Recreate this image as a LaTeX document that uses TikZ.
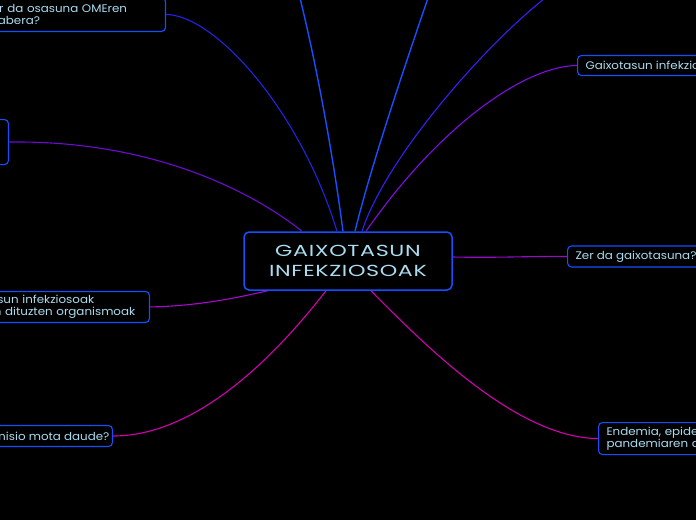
\documentclass[tikz,border=0pt]{standalone}
\usepackage{fontspec}
\newfontfamily\uifont[FakeStretch=1.08]{Poppins}
\newfontfamily\titlefont[FakeStretch=1.39,LetterSpace=4]{Poppins}
\definecolor{boxblue}{RGB}{20,80,255}
\definecolor{txtblue}{RGB}{170,220,240}
\definecolor{cblue}{RGB}{35,35,230}
\definecolor{cbright}{RGB}{20,80,255}
\definecolor{cviolet}{RGB}{55,30,245}
\definecolor{cpurple}{RGB}{125,15,225}
\definecolor{cpurple2}{RGB}{110,10,210}
\definecolor{cpurple3}{RGB}{150,10,200}
\definecolor{cpurple4}{RGB}{165,10,205}
\definecolor{cmagenta}{RGB}{210,0,175}
\tikzset{
  topic/.style={draw=boxblue, line width=1.1pt, fill=black, rounded corners=4pt,
    text=txtblue, font=\uifont\fontsize{11}{12.5}\selectfont, inner xsep=8pt, inner ysep=3pt, align=left},
  central/.style={draw=boxblue, line width=1.5pt, fill=black, rounded corners=5pt,
    minimum width=208pt, minimum height=58pt, text=txtblue,
    font=\titlefont\fontsize{16}{20}\selectfont, align=center},
  conn/.style={line width=1.1pt}
}
\begin{document}
\begin{tikzpicture}[x=1pt,y=-1pt]
\clip (0,0) rectangle (696,520);
\fill[black] (0,0) rectangle (696,520);

\node[central] (c) at (348,261) {GAIXOTASUN\\INFEKZIOSOAK};

\node[topic, text width=172pt, minimum height=34pt, anchor=south east] (n1) at (166,32)
  {\mbox{Zer da osasuna OMEren}\\\mbox{arabera?}};
\node[topic, minimum width=100pt, minimum height=45pt, anchor=north east] (n2) at (9,119) {};
\node[topic, text width=190pt, minimum height=31pt, anchor=south east] (n3) at (150,323)
  {\mbox{Gaixotasun infekziosoak}\\\mbox{eragiten dituzten organismoak}};
\node[topic, inner xsep=3pt, minimum height=21pt, anchor=east] (n4) at (113,436)
  {Zein transmisio mota daude?};
\node[topic, text width=200pt, minimum height=32pt, anchor=north west] (n5) at (598,422)
  {\mbox{Endemia, epidemia eta}\\\mbox{pandemiaren definizioa}};
\node[topic, minimum height=21pt, anchor=west] (n6) at (567,256.5) {Zer da gaixotasuna?};
\node[topic, minimum height=20pt, anchor=west] (n7) at (577,65.5) {Gaixotasun infekziosoak};

\coordinate (t1) at (300,-2);
\coordinate (t2) at (428,-2);
\coordinate (t3) at (545,-2);

\draw[conn, cblue] (n1.east) .. controls (215,15) and (300,110) .. ([xshift=-11pt]c.north);
\draw[conn, cpurple2] (n2.east) .. controls (150,140) and (250,190) .. ([xshift=-46pt]c.north);
\draw[conn, cbright, line width=1.4pt] (t1) .. controls (320,80) and (335,170) .. ([xshift=-5pt]c.north);
\draw[conn, cbright, line width=1.4pt] (t2) .. controls (400,80) and (370,170) .. ([xshift=7pt]c.north);
\draw[conn, cviolet] (t3) .. controls (480,50) and (385,160) .. ([xshift=14pt]c.north);
\draw[conn, cpurple] (n7.west) .. controls (525,66) and (440,125) .. ([xshift=18pt]c.north);
\draw[conn, cpurple3] ([yshift=4pt]c.east) .. controls (500,258) and (530,256) .. (n6.west);
\draw[conn, cpurple4] (n3.east) .. controls (200,306) and (240,297) .. ([xshift=-80pt]c.south);
\draw[conn, cmagenta] (n4.east) .. controls (200,436) and (280,350) .. ([xshift=-22pt]c.south);
\draw[conn, cmagenta] (n5.west) .. controls (515,438) and (420,340) .. ([xshift=23pt]c.south);
\end{tikzpicture}
\end{document}
